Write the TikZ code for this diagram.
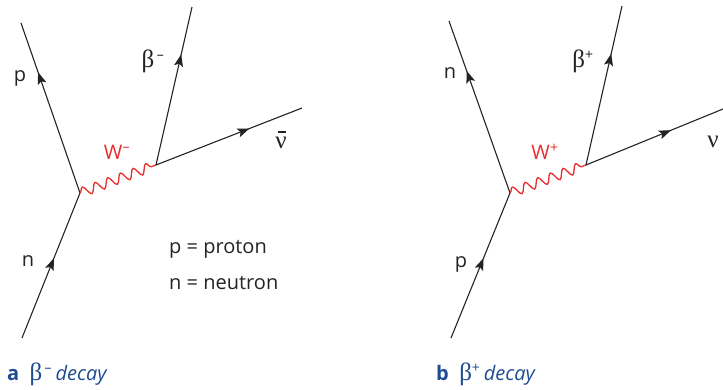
\documentclass[tikz,border=0pt]{standalone}
\usepackage{fontspec}
\setmainfont{Open Sans}
\newfontfamily\greek{Liberation Serif}
\usepackage{tikz}
\usetikzlibrary{arrows.meta,decorations.pathmorphing,decorations.markings}
\definecolor{ink}{RGB}{35,35,35}
\definecolor{wred}{RGB}{232,45,45}
\definecolor{capblue}{RGB}{30,75,145}
\newcommand{\gr}[1]{{\greek\fontsize{25}{28}\selectfont #1}}
\newcommand{\nubar}{\gr{\rlap{\hspace{0.1em}\rule[0.64em]{0.32em}{0.05em}}ν}}
\tikzset{
  fermion/.style={draw=ink, line width=1.1pt, postaction={decorate},
    decoration={markings, mark=at position #1 with {\arrow{Stealth[length=12pt,width=9pt,inset=2.5pt]}}}},
  fermion/.default=0.6,
  boson/.style={draw=wred, line width=1.3pt, decorate,
    decoration={snake, segment length=13.5pt, amplitude=4.8pt}},
  lbl/.style={font=\fontsize{20}{24}\selectfont, text=ink, inner sep=0pt},
  wlbl/.style={lbl, text=wred},
  note/.style={lbl, anchor=west},
  caption/.style={font=\fontsize{20}{24}\selectfont, text=capblue, inner sep=0pt, anchor=west},
}

\begin{document}
\begin{tikzpicture}[x=1pt, y=-1pt]
  \useasboundingbox (0,0) rectangle (723,389);
  % a: beta minus decay
  \coordinate (nin) at (22,338);
  \coordinate (vtxa) at (80,193);
  \coordinate (pout) at (21,23);
  \coordinate (wenda) at (156,165);
  \coordinate (bmout) at (192,7);
  \coordinate (nubout) at (302,108);
  \draw[fermion=0.55] (nin) -- (vtxa);
  \draw[fermion=0.71] (vtxa) -- (pout);
  \draw[boson] (vtxa) -- (wenda);
  \draw[fermion=0.70] (wenda) -- (bmout);
  \draw[fermion=0.64] (wenda) -- (nubout);
  \node[lbl] (nlbla) at (28,261) {n};
  \node[lbl] (plbla) at (20,78) {p};
  \node[lbl] (bmlbl) at (153,61) {\gr{β}\textsuperscript{\,–}};
  \node[wlbl] (wmlbl) at (117,152) {W\textsuperscript{–}};
  \node[lbl] (nublbl) at (281,140) {\nubar};
  \node[note] (pnote) at (169,249) {p = proton};
  \node[note] (nnote) at (169,283) {n = neutron};
  \node[caption] (capa) at (7,374) {\textbf{a}\ \ \gr{β}\textsuperscript{\,–}\,\textit{decay}};
  % b: beta plus decay
  \coordinate (pin) at (451,338);
  \coordinate (vtxb) at (510,193);
  \coordinate (nout) at (449,21);
  \coordinate (wendb) at (586,165);
  \coordinate (bpout) at (622,6);
  \coordinate (nuout) at (723,109);
  \draw[fermion=0.55] (pin) -- (vtxb);
  \draw[fermion=0.71] (vtxb) -- (nout);
  \draw[boson] (vtxb) -- (wendb);
  \draw[fermion=0.70] (wendb) -- (bpout);
  \draw[fermion=0.62] (wendb) -- (nuout);
  \node[lbl] (plblb) at (461,264) {p};
  \node[lbl] (nlblb) at (450,73) {n};
  \node[lbl] (bplbl) at (583,61) {\gr{β}\textsuperscript{+}};
  \node[wlbl] (wplbl) at (545,152) {W\textsuperscript{+}};
  \node[lbl] (nulbl) at (713,142) {\gr{ν}};
  \node[caption] (capb) at (436,374) {\textbf{b}\ \ \gr{β}\textsuperscript{+}\,\textit{decay}};
\end{tikzpicture}
\end{document}
